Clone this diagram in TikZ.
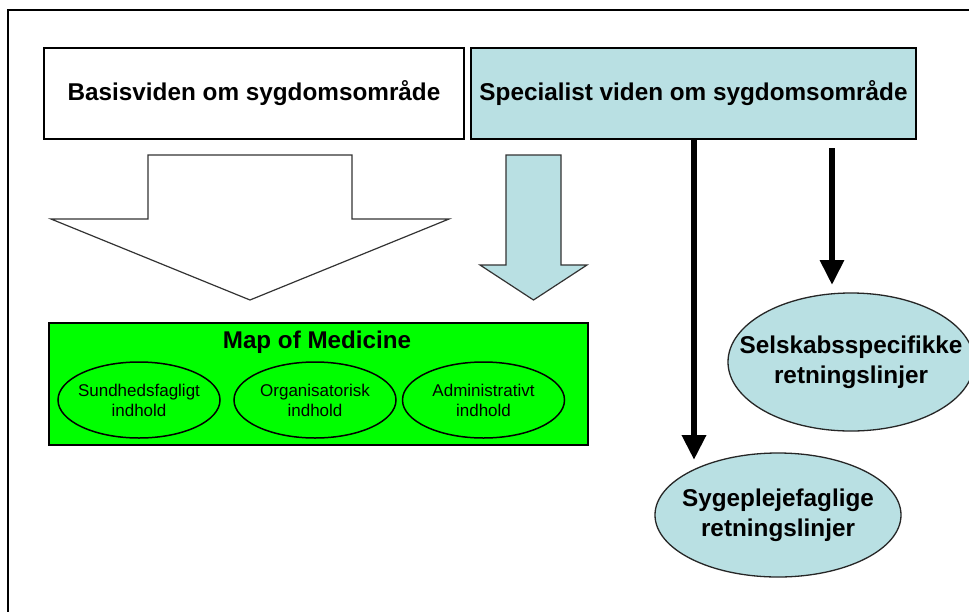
\documentclass[tikz,border=0pt]{standalone}
\usepackage{fontspec}
\setmainfont{Liberation Sans}
\usetikzlibrary{shapes.geometric,arrows.meta}
\definecolor{lblue}{RGB}{185,224,227}
\definecolor{mgreen}{RGB}{0,255,0}
\begin{document}
\begin{tikzpicture}[x=1pt,y=-1pt,
  topbox/.style={draw=black,line width=1.5pt,minimum height=91pt,inner sep=0pt,
    font=\bfseries\fontsize{24.3}{28}\selectfont},
  blockarrow/.style={draw=black!80,line width=1.2pt},
  subell/.style={ellipse,draw=black,line width=1.5pt,minimum width=162pt,minimum height=76pt,
    inner xsep=-20pt,inner ysep=-10pt,align=center,font=\fontsize{17}{20}\selectfont},
  blueell/.style={ellipse,draw=black!85,line width=1.3pt,fill=lblue,minimum width=246pt,
    inner xsep=-40pt,inner ysep=-10pt,align=center,font=\bfseries\fontsize{24.3}{30}\selectfont},
  thickarrow/.style={line width=6.5pt,-{Triangle[width=23pt,length=25pt]}}]
\useasboundingbox (0,0) rectangle (969,611);
\fill[white] (0,0) rectangle (969,611);
\draw[line width=1.5pt] (975,10) -- (8,10) -- (8,620);

\node[topbox,fill=white,minimum width=420pt] (basis) at (254,93.5) {Basisviden om sygdomsområde};
\node[topbox,fill=lblue,minimum width=445pt] (spec) at (693.5,93.5) {Specialist viden om sygdomsområde};

\draw[blockarrow,fill=white] (148,155) -- (352,155) -- (352,219) -- (449,219) -- (250,300)
  -- (51,219) -- (148,219) -- cycle;
\draw[blockarrow,fill=lblue] (506,155) -- (561,155) -- (561,265) -- (587,265) -- (533.5,300)
  -- (480,265) -- (506,265) -- cycle;

\node[draw=black,line width=1.5pt,fill=mgreen,minimum width=539pt,minimum height=122pt,inner sep=0pt]
  (mom) at (318.5,384) {};
\node[font=\bfseries\fontsize{24.2}{28}\selectfont] (momt) at (317,342) {Map of Medicine};
\node[subell] (e1) at (139,400) {Sundhedsfagligt\\indhold};
\node[subell] (e2) at (315,400) {Organisatorisk\\indhold};
\node[subell] (e3) at (483.5,400) {Administrativt\\indhold};

\node[blueell,minimum height=138pt] (sel) at (851,362) {Selskabsspecifikke\\retningslinjer};
\node[blueell,minimum height=124pt] (syg) at (778,515) {Sygeplejefaglige\\retningslinjer};

\coordinate (t1) at (694,460);
\coordinate (s2) at (832,148);
\coordinate (t2) at (832,285);
\draw[thickarrow] (spec.south -| t1) -- (t1);
\draw[thickarrow,line width=6pt] (s2) -- (t2);
\end{tikzpicture}
\end{document}
